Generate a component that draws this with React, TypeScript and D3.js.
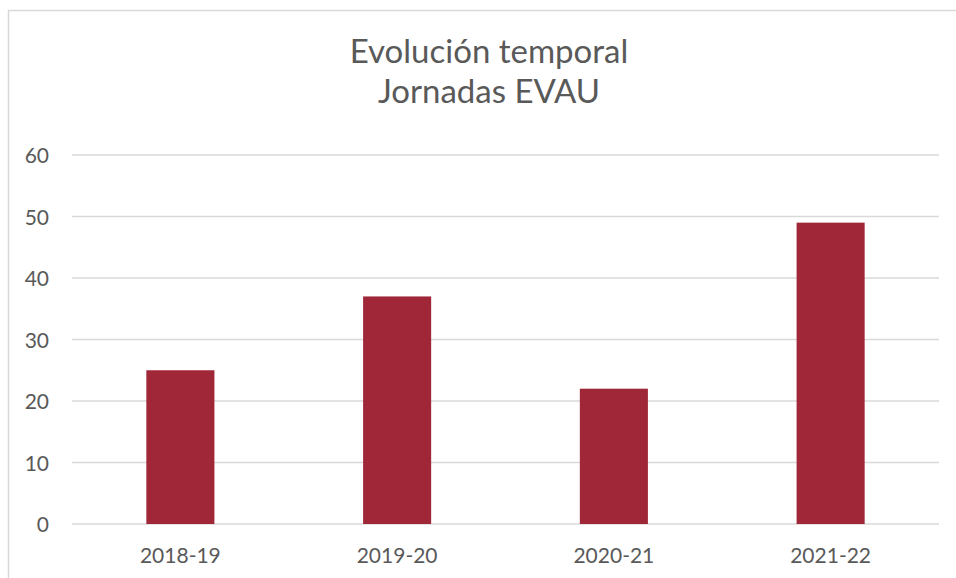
import React from "react";
import * as d3 from "d3";

const categories = ["2018-19", "2019-20", "2020-21", "2021-22"];
const values = [25, 37, 22, 49];
const yTicks = [0, 10, 20, 30, 40, 50, 60];
const titleLines = ["Evolución temporal", "Jornadas EVAU"];

const W = 956;
const H = 578;
const FONT = "Lato, 'Open Sans', sans-serif";
const TEXT = "#595959";
const GRID = "#d9d9d9";
const BAR = "#A02737";

export default function App() {
  const left = 72;
  const right = 939;
  const top = 155;
  const bottom = 524;

  const x = d3.scaleBand<string>().domain(categories).range([left, right]).padding(0);
  const y = d3.scaleLinear().domain([0, 60]).range([bottom, top]);
  const barW = x.bandwidth() * 0.314;

  return (
    <svg
      width={W}
      height={H}
      style={{ position: "absolute", left: 0, top: 0, background: "#fff" }}
      fontFamily={FONT}
    >
      <rect x={0} y={0} width={W} height={H} fill="#fff" />
      <rect x={8.5} y={10.5} width={1100} height={700} fill="none" stroke={GRID} strokeWidth={1.5} />
      {titleLines.map((t, i) => (
        <text
          key={t}
          x={489}
          y={63 + i * 40}
          textAnchor="middle"
          fontSize={33}
          fill={TEXT}
        >
          {t}
        </text>
      ))}
      {yTicks.map((v) => (
        <g key={v}>
          <line x1={left} x2={right} y1={y(v)} y2={y(v)} stroke={GRID} strokeWidth={1.5} />
          <text x={49} y={y(v) + 8} textAnchor="end" fontSize={21} fill={TEXT}>
            {v}
          </text>
        </g>
      ))}
      {categories.map((c, i) => (
        <rect
          key={c}
          x={(x(c) as number) + x.bandwidth() / 2 - barW / 2}
          y={y(values[i])}
          width={barW}
          height={y(0) - y(values[i])}
          fill={BAR}
        />
      ))}
      {categories.map((c) => (
        <text
          key={c}
          x={(x(c) as number) + x.bandwidth() / 2}
          y={563}
          textAnchor="middle"
          fontSize={21}
          fill={TEXT}
        >
          {c}
        </text>
      ))}
    </svg>
  );
}
